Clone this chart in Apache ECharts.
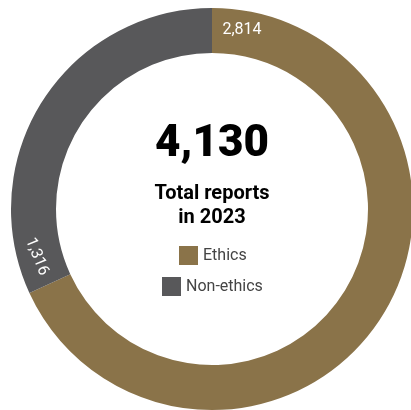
<!DOCTYPE html>
<html>
<head>
<meta charset="utf-8">
<script src="https://cdn.jsdelivr.net/npm/echarts@6/dist/echarts.min.js"></script>
<style>
html,body{margin:0;padding:0;background:#fff;}
#chart{width:411px;height:410px;}
</style>
</head>
<body>
<div id="chart"></div>
<script>
// Data
const categories = ['Ethics', 'Non-ethics'];
const values = [2814, 1316];
const colors = ['#8A7349', '#58585A'];
const totalLabel = '4,130';
const subtitleLines = ['Total reports', 'in 2023'];

const fmt = v => v.toLocaleString('en-US');
const total = values.reduce((a, b) => a + b, 0);
const labelSpan = total * 19 / 360; // angular room for each slice label, near its start
const labelRotate = [0, -68];

const chart = echarts.init(document.getElementById('chart'));

const overlay = [];
values.forEach((v, i) => {
  overlay.push({
    name: categories[i] + '-label',
    value: labelSpan,
    label: { show: true, formatter: fmt(v), rotate: labelRotate[i] }
  });
  overlay.push({ name: categories[i] + '-rest', value: v - labelSpan, label: { show: false } });
});

const center = [212, 209];
const radius = [156, 201];

const legendBase = {
  itemWidth: 19, itemHeight: 19, itemGap: 8, icon: 'rect', selectedMode: false, padding: 0,
  textStyle: { fontFamily: 'Roboto', fontSize: 16, color: '#444' }
};

chart.setOption({
  animation: false,
  color: colors,
  graphic: [
    {
      type: 'text', x: center[0], y: 145, silent: true,
      style: { text: totalLabel, align: 'center', verticalAlign: 'middle',
        font: '900 44px Roboto', fill: '#000' }
    },
    {
      type: 'text', x: center[0], y: 194, silent: true,
      style: { text: subtitleLines[0], align: 'center', verticalAlign: 'middle',
        font: 'bold 20px Roboto', fill: '#000' }
    },
    {
      type: 'text', x: center[0], y: 218, silent: true,
      style: { text: subtitleLines[1], align: 'center', verticalAlign: 'middle',
        font: 'bold 20px Roboto', fill: '#000' }
    }
  ],
  legend: [
    Object.assign({ data: [categories[0]], left: 179, top: 246 }, legendBase),
    Object.assign({ data: [categories[1]], left: 162, top: 277 }, legendBase)
  ],
  series: [
    {
      type: 'pie',
      center: center,
      radius: radius,
      startAngle: 90,
      clockwise: true,
      silent: true,
      label: { show: false },
      labelLine: { show: false },
      itemStyle: { borderWidth: 0 },
      data: categories.map((c, i) => ({ name: c, value: values[i] }))
    },
    {
      type: 'pie',
      center: center,
      radius: radius,
      startAngle: 90,
      clockwise: true,
      silent: true,
      legendHoverLink: false,
      itemStyle: { color: 'rgba(0,0,0,0)', borderWidth: 0 },
      label: {
        position: 'inside',
        color: '#fff',
        fontFamily: 'Roboto',
        fontSize: 16
      },
      labelLine: { show: false },
      data: overlay
    }
  ]
});
</script>
</body>
</html>
